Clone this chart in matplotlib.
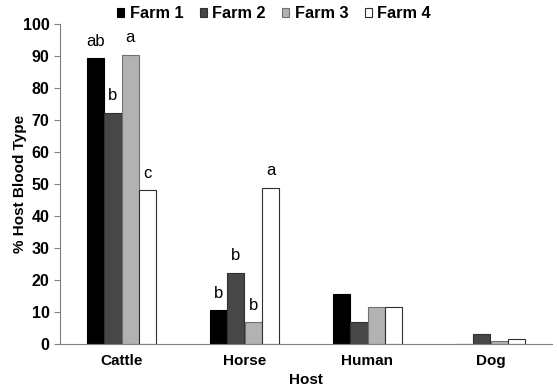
import numpy as np
import matplotlib.pyplot as plt

plt.rcParams['font.family'] = ['Liberation Sans', 'DejaVu Sans']

hosts = ['Cattle', 'Horse', 'Human', 'Dog']
farms = ['Farm 1', 'Farm 2', 'Farm 3', 'Farm 4']
farm1 = [89.3, 10.5, 15.7, 0.0]
farm2 = [72.3, 22.2, 6.8, 3.0]
farm3 = [90.4, 6.8, 11.7, 0.9]
farm4 = [48.0, 48.8, 11.5, 1.7]
letters = {
    'Cattle': ['ab', 'b', 'a', 'c'],
    'Horse': ['b', 'b', 'b', 'a'],
}

series = [farm1, farm2, farm3, farm4]
colors = ['#000000', '#474747', '#b2b2b2', '#ffffff']
edges = ['#000000', '#303030', '#707070', '#303030']

fig = plt.figure(figsize=(5.57, 3.92), dpi=100)
ax = fig.add_axes([60 / 557, 48 / 392, 492 / 557, 320 / 392])

x = np.arange(len(hosts))
width = 0.142
for i, vals in enumerate(series):
    pos = x + (i - 1.5) * width
    ax.bar(pos, vals, width, color=colors[i], edgecolor=edges[i],
           linewidth=0.8, label=farms[i])
    for j, h in enumerate(hosts):
        if h in letters:
            ax.text(pos[j], vals[j] + 3, letters[h][i], ha='center',
                    va='bottom', fontsize=12)

ax.set_xlim(-0.5, 3.5)
ax.set_ylim(0, 100)
ax.set_yticks(range(0, 101, 10))
ax.set_xticks(x)
ax.set_xticklabels(hosts, fontweight='bold', fontsize=11)
ax.tick_params(axis='x', length=0, pad=7)
ax.tick_params(axis='y', length=4, color='#808080', direction='out')
for lab in ax.get_yticklabels():
    lab.set_fontweight('bold')
    lab.set_fontsize(11.5)
for s in ['top', 'right']:
    ax.spines[s].set_visible(False)
for s in ['left', 'bottom']:
    ax.spines[s].set_color('#808080')
ax.set_ylabel('% Host Blood Type', fontweight='bold', fontsize=11,
              labelpad=-3)
ax.set_xlabel('Host', fontweight='bold', fontsize=11, labelpad=4)

leg = ax.legend(loc='center', bbox_to_anchor=((274 - 60) / 492, 1 + 10 / 320),
                ncol=4, frameon=False, prop={'weight': 'bold', 'size': 11.7},
                handlelength=0.45, handleheight=0.45, handletextpad=0.33,
                columnspacing=1.0)

fig.savefig('out.png', dpi=100)
